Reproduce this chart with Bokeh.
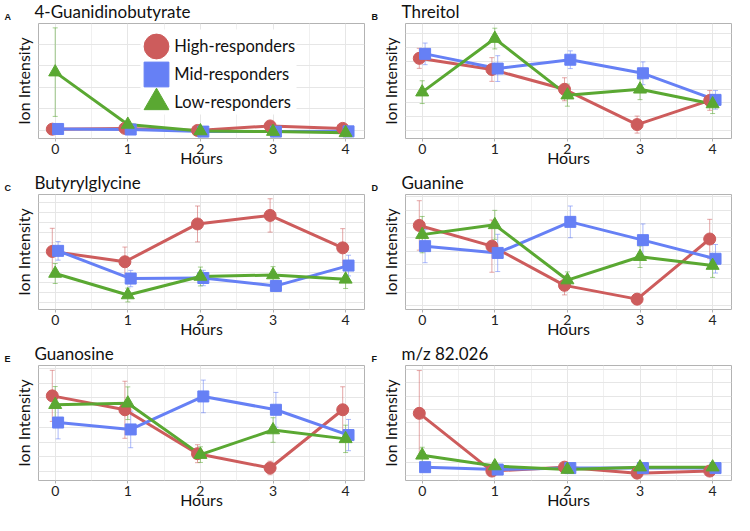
from bokeh.plotting import figure
from bokeh.layouts import gridplot
from bokeh.models import (ColumnDataSource, Range1d, FixedTicker, Whisker, TeeHead, Title,
                          Legend, LegendItem, CustomJSTickFormatter, BoxAnnotation)
from bokeh.embed import file_html
from bokeh.resources import INLINE

# ---------------- data (relative ion intensity, 0-100 of panel scale) ----------------
hours = [0, 1, 2, 3, 4]
groups = ["High-responders", "Mid-responders", "Low-responders"]
letters = ["A", "B", "C", "D", "E", "F"]
metabolites = ["4-Guanidinobutyrate", "Threitol", "Butyrylglycine", "Guanine", "Guanosine", "m/z 82.026"]

# A: 4-Guanidinobutyrate
a_high = [8.1, 8.8, 7.0, 10.9, 8.8]
a_high_sd = [1.5, 1.5, 1.5, 2.0, 1.5]
a_mid = [8.3, 7.8, 6.0, 6.0, 6.2]
a_mid_sd = [1.0, 1.0, 1.0, 1.0, 1.0]
a_low = [57.7, 12.2, 6.5, 6.0, 4.9]
a_low_sd = [38.5, 2.0, 1.0, 1.0, 1.0]

# B: Threitol
b_high = [69.7, 60.0, 42.8, 12.1, 33.1]
b_high_sd = [8.7, 10.3, 10.0, 7.4, 8.6]
b_mid = [73.6, 60.8, 68.5, 56.7, 33.6]
b_mid_sd = [9.4, 11.2, 7.7, 9.9, 8.1]
b_low = [40.3, 86.9, 37.7, 42.8, 30.0]
b_low_sd = [9.9, 9.0, 9.6, 9.0, 8.3]

# C: Butyrylglycine
c_high = [50.5, 41.5, 74.4, 81.8, 53.6]
c_high_sd = [20.1, 12.8, 15.6, 14.5, 16.7]
c_mid = [51.0, 26.9, 27.4, 20.5, 38.2]
c_mid_sd = [8.1, 7.1, 6.7, 4.7, 9.0]
c_low = [31.3, 12.6, 28.7, 30.0, 26.2]
c_low_sd = [8.7, 6.0, 8.2, 7.3, 7.9]

# D: Guanine
d_high = [73.1, 55.1, 21.0, 9.0, 61.3]
d_high_sd = [21.5, 22.7, 8.3, 4.7, 17.1]
d_mid = [55.1, 49.2, 76.2, 60.3, 44.1]
d_mid_sd = [14.4, 16.2, 13.8, 14.1, 12.4]
d_low = [65.1, 73.6, 25.6, 45.9, 38.2]
d_low_sd = [15.8, 12.6, 7.1, 9.4, 10.3]

# E: Guanosine
e_high = [73.6, 61.5, 23.3, 10.9, 61.5]
e_high_sd = [22.2, 24.8, 7.8, 5.9, 20.0]
e_mid = [50.4, 44.4, 73.1, 61.5, 39.5]
e_mid_sd = [14.2, 15.9, 14.2, 15.1, 13.6]
e_low = [65.9, 67.2, 22.5, 43.9, 36.2]
e_low_sd = [15.8, 14.2, 6.8, 10.7, 11.9]

# F: m/z 82.026
f_high = [58.4, 8.2, 11.6, 6.4, 8.2]
f_high_sd = [37.2, 1.5, 1.5, 1.5, 1.5]
f_mid = [11.6, 9.5, 10.8, 10.8, 10.8]
f_mid_sd = [1.0, 1.0, 1.0, 1.0, 1.0]
f_low = [21.9, 12.6, 9.5, 11.6, 11.6]
f_low_sd = [7.0, 1.5, 1.5, 1.5, 1.5]

panel_data = [
    {"High-responders": (a_high, a_high_sd), "Mid-responders": (a_mid, a_mid_sd), "Low-responders": (a_low, a_low_sd)},
    {"High-responders": (b_high, b_high_sd), "Mid-responders": (b_mid, b_mid_sd), "Low-responders": (b_low, b_low_sd)},
    {"High-responders": (c_high, c_high_sd), "Mid-responders": (c_mid, c_mid_sd), "Low-responders": (c_low, c_low_sd)},
    {"High-responders": (d_high, d_high_sd), "Mid-responders": (d_mid, d_mid_sd), "Low-responders": (d_low, d_low_sd)},
    {"High-responders": (e_high, e_high_sd), "Mid-responders": (e_mid, e_mid_sd), "Low-responders": (e_low, e_low_sd)},
    {"High-responders": (f_high, f_high_sd), "Mid-responders": (f_mid, f_mid_sd), "Low-responders": (f_low, f_low_sd)},
]

# y grid lines per panel (start, step) in the same relative units
grid_start = [7.0, 7.0, 6.2, 3.1, 7.8, 4.4]
grid_step = [18.7, 12.0, 8.7, 11.9, 12.8, 11.5]

# ---------------- styles ----------------
FONT = "Lato"
colors = {"High-responders": "#CD5C5C", "Mid-responders": "#6680F5", "Low-responders": "#5AA832"}
markers = {"High-responders": "circle", "Mid-responders": "square", "Low-responders": "triangle"}
msize = {"High-responders": 12, "Mid-responders": 11, "Low-responders": 13}
dodge = {"High-responders": -0.04, "Mid-responders": 0.04, "Low-responders": 0.0}

X0, X1 = -0.23, 4.26
FW, FH = 326, 115
TOP, BOTTOM = 23, 33
PX_X = FW / (X1 - X0)   # pixels per hour
PX_Y = FH / 100.0       # pixels per relative unit

# legend layout (px from the frame's bottom-left corner)
LEG_MARK_X = 117.7
LEG_MARK_Y = [92.4, 64.2, 36.1]
LEG_TEXT_X = 135.3
LEG_PITCH = 28


def make_panel(i):
    p = figure(frame_width=FW, frame_height=FH, min_border_left=38, min_border_right=3,
               min_border_top=TOP, min_border_bottom=BOTTOM,
               x_range=Range1d(X0, X1), y_range=Range1d(0, 100),
               output_backend="svg", toolbar_location=None, title=metabolites[i])
    p.title.text_font = FONT
    p.title.text_font_size = "17px"
    p.title.text_font_style = "normal"
    p.title.text_color = "#111111"
    p.title.align = "left"
    p.title.vertical_align = "bottom"
    p.title.offset = -4
    p.title.standoff = -20
    # panel letter: a small title band sitting between the main title and the frame
    p.add_layout(Title(text=letters[i], align="left", offset=-34, standoff=0,
                       vertical_align="top", text_font="Liberation Sans",
                       text_font_style="bold", text_font_size="9px",
                       text_color="#111111"), "above")
    p.outline_line_color = "#b3b3b3"
    p.outline_line_width = 1
    p.background_fill_color = "white"
    p.border_fill_color = "white"

    xa = p.xaxis[0]
    xa.ticker = FixedTicker(ticks=hours, minor_ticks=[-0.5, 0.5, 1.5, 2.5, 3.5])
    xa.axis_line_color = None
    xa.major_tick_line_color = "#b3b3b3"
    xa.major_tick_out = 3
    xa.major_tick_in = 0
    xa.minor_tick_out = 0
    xa.minor_tick_in = 0
    xa.major_label_text_font = FONT
    xa.major_label_text_font_size = "14px"
    xa.major_label_text_color = "#222222"
    xa.major_label_standoff = 2
    xa.axis_label = "Hours"
    xa.axis_label_text_font = FONT
    xa.axis_label_text_font_size = "16px"
    xa.axis_label_text_font_style = "normal"
    xa.axis_label_text_color = "#111111"
    xa.axis_label_standoff = -9

    yt = [grid_start[i] + k * grid_step[i] for k in range(12) if grid_start[i] + k * grid_step[i] < 100]
    ya = p.yaxis[0]
    ya.ticker = FixedTicker(ticks=yt)
    ya.formatter = CustomJSTickFormatter(code="return ''")
    ya.axis_line_color = None
    ya.major_tick_out = 0
    ya.major_tick_in = 0
    ya.minor_tick_out = 0
    ya.minor_tick_in = 0
    ya.major_label_standoff = 0
    ya.axis_label = "Ion Intensity"
    ya.axis_label_text_font = FONT
    ya.axis_label_text_font_size = "16px"
    ya.axis_label_text_font_style = "normal"
    ya.axis_label_text_color = "#111111"
    ya.axis_label_standoff = 6

    p.xgrid.grid_line_color = "#e6e6e6"
    p.xgrid.minor_grid_line_color = "#f0f0f0"
    p.ygrid.grid_line_color = "#e6e6e6"

    sources = {}
    for g in groups:
        mean, sd = panel_data[i][g]
        sources[g] = ColumnDataSource(dict(
            x=[h + dodge[g] for h in hours], y=mean,
            upper=[m + s for m, s in zip(mean, sd)], lower=[m - s for m, s in zip(mean, sd)]))

    if i == 0:
        # white backing behind the legend (covers grid only)
        p.add_layout(BoxAnnotation(left=X0 + 102 / PX_X, right=X0 + 258 / PX_X,
                                   top=100 - 6 / PX_Y, bottom=24 / PX_Y,
                                   fill_color="white", fill_alpha=1.0, line_color=None,
                                   level="underlay"))

    for g in groups:
        c = colors[g]
        p.add_layout(Whisker(source=sources[g], base="x", upper="upper", lower="lower",
                             line_color=c, line_alpha=0.55, line_width=1,
                             upper_head=TeeHead(size=5, line_color=c, line_alpha=0.55, line_width=1),
                             lower_head=TeeHead(size=5, line_color=c, line_alpha=0.55, line_width=1)))
    for g in groups:
        p.line("x", "y", source=sources[g], line_color=colors[g], line_width=3)
    pts = {}
    for g in groups:
        pts[g] = p.scatter("x", "y", source=sources[g], marker=markers[g], size=msize[g],
                           fill_color=colors[g], line_color=colors[g])

    if i == 0:
        common = dict(padding=0, margin=0, border_line_color=None, background_fill_alpha=0,
                      label_standoff=0)
        # large markers: one single-item legend per group (glyph box 62 px -> 25 px marker)
        for k, g in enumerate(groups):
            p.add_layout(Legend(items=[LegendItem(label="", renderers=[pts[g]])],
                                location=(LEG_MARK_X - 31, LEG_MARK_Y[k] - 31),
                                glyph_width=62, glyph_height=62, label_width=0,
                                label_text_font_size="1px", **common))
        # texts: one legend with invisible glyphs
        dummies = {g: p.line(x=[], y=[], line_alpha=0) for g in groups}
        p.add_layout(Legend(items=[LegendItem(label=g, renderers=[dummies[g]]) for g in groups],
                            location=(LEG_TEXT_X, LEG_MARK_Y[0] + LEG_PITCH / 2 - 3 * LEG_PITCH),
                            glyph_width=1, glyph_height=LEG_PITCH, label_height=LEG_PITCH,
                            spacing=0, label_text_font=FONT, label_text_font_size="16.5px",
                            label_text_color="#111111", **common))
    return p


panels = [make_panel(i) for i in range(6)]
grid = gridplot([[panels[0], panels[1]], [panels[2], panels[3]], [panels[4], panels[5]]],
                toolbar_location=None)

open("out.html", "w").write(file_html(grid, INLINE))
